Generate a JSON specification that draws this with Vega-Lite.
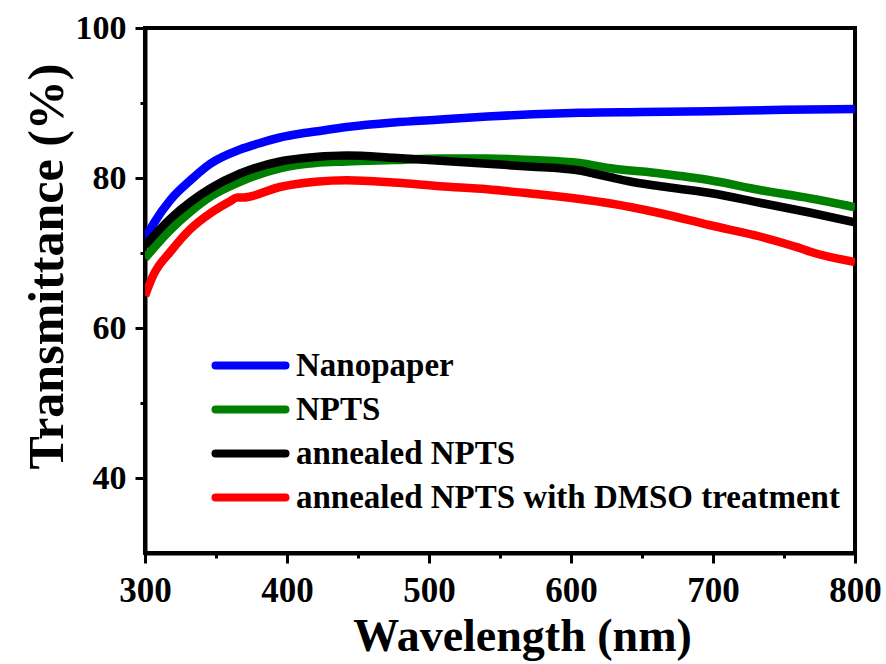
{
  "$schema": "https://vega.github.io/schema/vega-lite/v6.json",
  "width": 710,
  "height": 525,
  "autosize": {"type": "none"},
  "padding": {"left": 145, "top": 28, "right": 31, "bottom": 111},
  "background": "white",
  "config": {
    "view": {"stroke": "black", "strokeWidth": 4},
    "font": "Liberation Serif"
  },
  "data": {
    "values": [
      {"sample": "Nanopaper", "wavelength": 300, "transmittance": 71.8},
      {"sample": "Nanopaper", "wavelength": 306, "transmittance": 73.9},
      {"sample": "Nanopaper", "wavelength": 318, "transmittance": 77.1},
      {"sample": "Nanopaper", "wavelength": 332, "transmittance": 79.7},
      {"sample": "Nanopaper", "wavelength": 346, "transmittance": 81.9},
      {"sample": "Nanopaper", "wavelength": 367, "transmittance": 83.8},
      {"sample": "Nanopaper", "wavelength": 380, "transmittance": 84.6},
      {"sample": "Nanopaper", "wavelength": 395, "transmittance": 85.4},
      {"sample": "Nanopaper", "wavelength": 409, "transmittance": 85.9},
      {"sample": "Nanopaper", "wavelength": 420, "transmittance": 86.2},
      {"sample": "Nanopaper", "wavelength": 442, "transmittance": 86.8},
      {"sample": "Nanopaper", "wavelength": 475, "transmittance": 87.4},
      {"sample": "Nanopaper", "wavelength": 508, "transmittance": 87.8},
      {"sample": "Nanopaper", "wavelength": 541, "transmittance": 88.2},
      {"sample": "Nanopaper", "wavelength": 573, "transmittance": 88.5},
      {"sample": "Nanopaper", "wavelength": 606, "transmittance": 88.7},
      {"sample": "Nanopaper", "wavelength": 650, "transmittance": 88.8},
      {"sample": "Nanopaper", "wavelength": 698, "transmittance": 88.9},
      {"sample": "Nanopaper", "wavelength": 750, "transmittance": 89.1},
      {"sample": "Nanopaper", "wavelength": 800, "transmittance": 89.2},

      {"sample": "NPTS", "wavelength": 300, "transmittance": 69.3},
      {"sample": "NPTS", "wavelength": 318, "transmittance": 73.1},
      {"sample": "NPTS", "wavelength": 332, "transmittance": 75.5},
      {"sample": "NPTS", "wavelength": 346, "transmittance": 77.5},
      {"sample": "NPTS", "wavelength": 367, "transmittance": 79.5},
      {"sample": "NPTS", "wavelength": 395, "transmittance": 81.3},
      {"sample": "NPTS", "wavelength": 420, "transmittance": 82.0},
      {"sample": "NPTS", "wavelength": 442, "transmittance": 82.2},
      {"sample": "NPTS", "wavelength": 475, "transmittance": 82.4},
      {"sample": "NPTS", "wavelength": 508, "transmittance": 82.6},
      {"sample": "NPTS", "wavelength": 541, "transmittance": 82.6},
      {"sample": "NPTS", "wavelength": 573, "transmittance": 82.4},
      {"sample": "NPTS", "wavelength": 606, "transmittance": 82.0},
      {"sample": "NPTS", "wavelength": 628, "transmittance": 81.3},
      {"sample": "NPTS", "wavelength": 663, "transmittance": 80.6},
      {"sample": "NPTS", "wavelength": 698, "transmittance": 79.7},
      {"sample": "NPTS", "wavelength": 733, "transmittance": 78.4},
      {"sample": "NPTS", "wavelength": 768, "transmittance": 77.3},
      {"sample": "NPTS", "wavelength": 800, "transmittance": 76.1},

      {"sample": "annealed NPTS", "wavelength": 300, "transmittance": 71.0},
      {"sample": "annealed NPTS", "wavelength": 318, "transmittance": 74.6},
      {"sample": "annealed NPTS", "wavelength": 332, "transmittance": 76.8},
      {"sample": "annealed NPTS", "wavelength": 346, "transmittance": 78.6},
      {"sample": "annealed NPTS", "wavelength": 367, "transmittance": 80.6},
      {"sample": "annealed NPTS", "wavelength": 395, "transmittance": 82.2},
      {"sample": "annealed NPTS", "wavelength": 420, "transmittance": 82.8},
      {"sample": "annealed NPTS", "wavelength": 442, "transmittance": 83.0},
      {"sample": "annealed NPTS", "wavelength": 475, "transmittance": 82.7},
      {"sample": "annealed NPTS", "wavelength": 508, "transmittance": 82.3},
      {"sample": "annealed NPTS", "wavelength": 541, "transmittance": 81.9},
      {"sample": "annealed NPTS", "wavelength": 573, "transmittance": 81.5},
      {"sample": "annealed NPTS", "wavelength": 592, "transmittance": 81.3},
      {"sample": "annealed NPTS", "wavelength": 606, "transmittance": 81.0},
      {"sample": "annealed NPTS", "wavelength": 616, "transmittance": 80.6},
      {"sample": "annealed NPTS", "wavelength": 628, "transmittance": 80.1},
      {"sample": "annealed NPTS", "wavelength": 640, "transmittance": 79.6},
      {"sample": "annealed NPTS", "wavelength": 663, "transmittance": 78.9},
      {"sample": "annealed NPTS", "wavelength": 698, "transmittance": 78.0},
      {"sample": "annealed NPTS", "wavelength": 733, "transmittance": 76.7},
      {"sample": "annealed NPTS", "wavelength": 768, "transmittance": 75.4},
      {"sample": "annealed NPTS", "wavelength": 800, "transmittance": 74.1},

      {"sample": "annealed NPTS with DMSO treatment", "wavelength": 300, "transmittance": 64.3},
      {"sample": "annealed NPTS with DMSO treatment", "wavelength": 306, "transmittance": 67.1},
      {"sample": "annealed NPTS with DMSO treatment", "wavelength": 318, "transmittance": 70.2},
      {"sample": "annealed NPTS with DMSO treatment", "wavelength": 332, "transmittance": 73.2},
      {"sample": "annealed NPTS with DMSO treatment", "wavelength": 346, "transmittance": 75.3},
      {"sample": "annealed NPTS with DMSO treatment", "wavelength": 360, "transmittance": 76.9},
      {"sample": "annealed NPTS with DMSO treatment", "wavelength": 365, "transmittance": 77.4},
      {"sample": "annealed NPTS with DMSO treatment", "wavelength": 369, "transmittance": 77.4},
      {"sample": "annealed NPTS with DMSO treatment", "wavelength": 395, "transmittance": 78.8},
      {"sample": "annealed NPTS with DMSO treatment", "wavelength": 420, "transmittance": 79.5},
      {"sample": "annealed NPTS with DMSO treatment", "wavelength": 442, "transmittance": 79.7},
      {"sample": "annealed NPTS with DMSO treatment", "wavelength": 475, "transmittance": 79.4},
      {"sample": "annealed NPTS with DMSO treatment", "wavelength": 508, "transmittance": 78.9},
      {"sample": "annealed NPTS with DMSO treatment", "wavelength": 541, "transmittance": 78.5},
      {"sample": "annealed NPTS with DMSO treatment", "wavelength": 573, "transmittance": 77.9},
      {"sample": "annealed NPTS with DMSO treatment", "wavelength": 606, "transmittance": 77.2},
      {"sample": "annealed NPTS with DMSO treatment", "wavelength": 628, "transmittance": 76.6},
      {"sample": "annealed NPTS with DMSO treatment", "wavelength": 663, "transmittance": 75.3},
      {"sample": "annealed NPTS with DMSO treatment", "wavelength": 698, "transmittance": 73.7},
      {"sample": "annealed NPTS with DMSO treatment", "wavelength": 733, "transmittance": 72.2},
      {"sample": "annealed NPTS with DMSO treatment", "wavelength": 757, "transmittance": 70.9},
      {"sample": "annealed NPTS with DMSO treatment", "wavelength": 762, "transmittance": 70.6},
      {"sample": "annealed NPTS with DMSO treatment", "wavelength": 768, "transmittance": 70.2},
      {"sample": "annealed NPTS with DMSO treatment", "wavelength": 800, "transmittance": 68.8}
    ]
  },
  "mark": {"type": "line", "strokeWidth": 8.5, "strokeJoin": "round", "interpolate": "monotone", "clip": true},
  "encoding": {
    "x": {
      "field": "wavelength",
      "type": "quantitative",
      "scale": {"domain": [300, 800], "nice": false, "zero": false},
      "axis": {
        "title": "Wavelength (nm)",
        "values": [300, 350, 400, 450, 500, 550, 600, 650, 700, 750, 800],
        "labelExpr": "datum.value % 100 === 0 ? datum.label : ''",
        "grid": false,
        "domainColor": "black",
        "domainWidth": 4,
        "tickColor": "black",
        "tickWidth": 3,
        "tickSize": {"condition": {"test": "datum.value % 100 !== 0", "value": 5}, "value": 10},
        "labelFont": "Liberation Serif",
        "labelFontWeight": "bold",
        "labelFontSize": 35,
        "labelColor": "black",
        "labelBaseline": "alphabetic",
        "labelPadding": 38,
        "labelFlush": false,
        "labelOverlap": false,
        "titleFont": "Liberation Serif",
        "titleFontWeight": "bold",
        "titleFontSize": 46,
        "titleColor": "black",
        "titleBaseline": "alphabetic",
        "titleAnchor": "middle",
        "titleX": 377,
        "titleY": 97
      }
    },
    "y": {
      "field": "transmittance",
      "type": "quantitative",
      "scale": {"domain": [30, 100], "nice": false, "zero": false},
      "axis": {
        "title": "Transmittance (%)",
        "values": [40, 50, 60, 70, 80, 90, 100],
        "labelExpr": "datum.value % 20 === 0 ? datum.label : ''",
        "grid": false,
        "domainColor": "black",
        "domainWidth": 4,
        "tickColor": "black",
        "tickWidth": 3,
        "tickSize": {"condition": {"test": "datum.value % 20 !== 0", "value": 5}, "value": 10},
        "labelFont": "Liberation Serif",
        "labelFontWeight": "bold",
        "labelFontSize": 34,
        "labelColor": "black",
        "labelPadding": 9,
        "labelFlush": false,
        "labelOverlap": false,
        "titleFont": "Liberation Serif",
        "titleFontWeight": "bold",
        "titleFontSize": 50,
        "titleColor": "black",
        "titleBaseline": "alphabetic",
        "titleAlign": "center",
        "titleAngle": -90,
        "titleX": -83,
        "titleY": 238
      }
    },
    "color": {
      "field": "sample",
      "type": "nominal",
      "scale": {
        "domain": ["Nanopaper", "NPTS", "annealed NPTS", "annealed NPTS with DMSO treatment"],
        "range": ["#0000ff", "#008000", "#000000", "#ff0000"]
      },
      "legend": {
        "title": null,
        "orient": "none",
        "legendX": 89,
        "legendY": 321,
        "padding": 0,
        "symbolType": "M-5,0H5",
        "symbolSize": 196,
        "symbolStrokeWidth": 8,
        "labelFont": "Liberation Serif",
        "labelFontWeight": "bold",
        "labelFontSize": 33,
        "labelColor": "black",
        "labelOffset": 29,
        "labelLimit": 0,
        "rowPadding": 10,
        "encode": {"symbols": {"update": {"strokeCap": {"value": "round"}, "fill": {"value": "transparent"}}}}
      }
    }
  }
}
